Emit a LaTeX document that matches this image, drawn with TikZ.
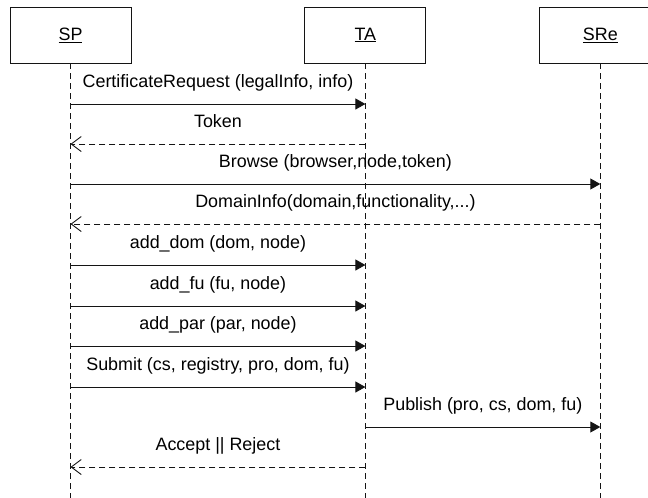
\documentclass[tikz,border=0pt]{standalone}
\usepackage{fontspec}
\setmainfont{Liberation Sans}
\usepackage{tikz}
\usetikzlibrary{arrows.meta,positioning}
\definecolor{lineblack}{RGB}{20,20,20}
\tikzset{
  actor/.style={draw=lineblack,line width=0.9pt,fill=white,minimum width=121pt,
    minimum height=56pt,inner sep=0pt},
  lifeline/.style={draw=lineblack,line width=0.9pt,dash pattern=on 6pt off 4pt},
  msg/.style={-{Triangle[length=10pt,width=11pt]},line width=0.9pt,draw=lineblack},
  reply/.style={-{Straight Barb[length=10pt,width=15pt]},line width=0.9pt,
    draw=lineblack,dash pattern=on 6pt off 4pt},
  msglabel/.style={anchor=base,yshift=17pt,inner sep=0pt}
}
\newcommand{\seqfont}{\fontsize{17.9}{21}\selectfont}

\begin{document}
\begin{tikzpicture}[x=1pt,y=-1pt,font=\seqfont]
  \useasboundingbox (0,0) rectangle (648,498);
  \node[actor] (sp) at (70.5,35) {\underline{SP}};
  \node[actor,right=173pt of sp] (ta) {\underline{TA}};
  \node[actor,right=113pt of ta] (sre) {\underline{SRe}};
  \coordinate (bottom) at (0,498);
  % lifelines
  \draw[lifeline] (sp.south) -- (sp |- bottom);
  \draw[lifeline] (ta.south) -- (ta |- bottom);
  \draw[lifeline] (sre.south) -- (sre |- bottom);
  % messages
  \draw[msg] (sp |- 0,104) -- node[msglabel] {CertificateRequest (legalInfo, info)} (ta |- 0,104);
  \draw[reply] (ta |- 0,144) -- node[msglabel] {Token} (sp |- 0,144);
  \draw[msg] (sp |- 0,184) -- node[msglabel] {Browse (browser,node,token)} (sre |- 0,184);
  \draw[reply] (sre |- 0,224) -- node[msglabel] {DomainInfo(domain,functionality,...)} (sp |- 0,224);
  \draw[msg] (sp |- 0,265) -- node[msglabel] {add\_dom (dom, node)} (ta |- 0,265);
  \draw[msg] (sp |- 0,306) -- node[msglabel] {add\_fu (fu, node)} (ta |- 0,306);
  \draw[msg] (sp |- 0,346) -- node[msglabel] {add\_par (par, node)} (ta |- 0,346);
  \draw[msg] (sp |- 0,387) -- node[msglabel] {Submit (cs, registry, pro, dom, fu)} (ta |- 0,387);
  \draw[msg] (ta |- 0,427) -- node[msglabel] {Publish (pro, cs, dom, fu)} (sre |- 0,427);
  \draw[reply] (ta |- 0,467) -- node[msglabel] {Accept || Reject} (sp |- 0,467);
\end{tikzpicture}
\end{document}
